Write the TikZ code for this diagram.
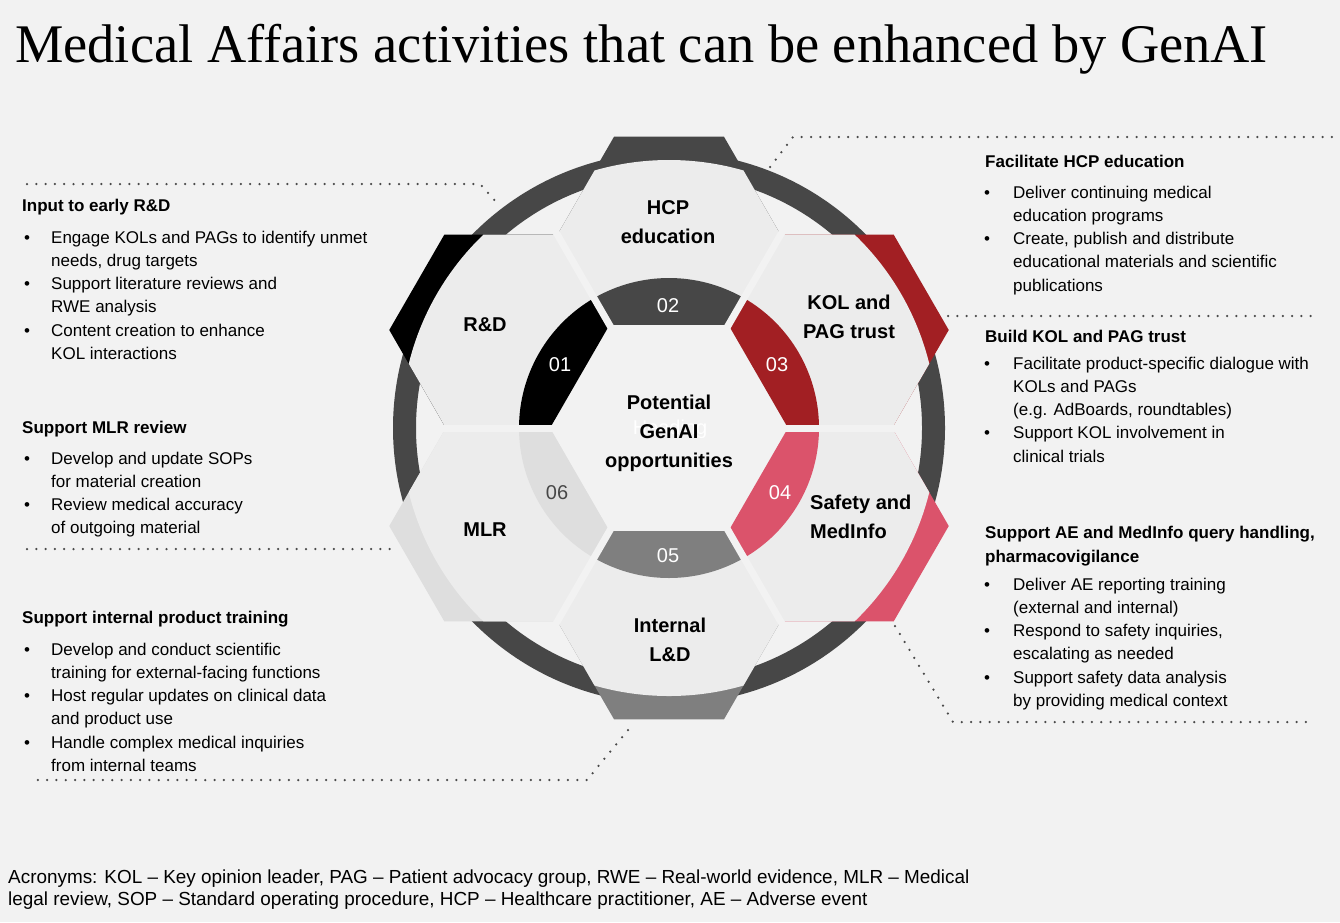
\documentclass[tikz,border=0pt]{standalone}
\usepackage{fontspec}
\setmainfont{Liberation Sans}
\newfontfamily\titlefont{Liberation Serif}
\usetikzlibrary{positioning}
\definecolor{bggray}{HTML}{F2F2F2}
\definecolor{tilegray}{HTML}{ECECEC}
\definecolor{ringgray}{HTML}{474747}
\definecolor{rdblack}{HTML}{000000}
\definecolor{kolred}{HTML}{A21F23}
\definecolor{safepink}{HTML}{DB536B}
\definecolor{lndgray}{HTML}{7F7F7F}
\definecolor{mlrgray}{HTML}{DEDEDE}
\definecolor{dotgray}{HTML}{4A4A4A}

\tikzset{
  leader/.style={draw=dotgray, line width=2.5pt, line cap=round, dash pattern=on 0pt off 9.3pt},
  tilelabel/.style={font=\bfseries\fontsize{20}{29}\selectfont, align=center, inner sep=0pt},
  segnum/.style={font=\fontsize{20}{24}\selectfont, text=white, inner sep=0pt},
  headtext/.style={anchor=base west, font=\bfseries\fontsize{17}{23.3}\selectfont, inner sep=0pt, align=left},
  listtext/.style={anchor=base west, font=\fontsize{17}{23.3}\selectfont, inner sep=0pt},
}
% bullet lists, left and right columns
\newcommand{\leftlist}[1]{\begin{tabular}[t]{@{\hspace{2pt}}p{27pt}@{}l@{}}#1\end{tabular}}
\newcommand{\rightlist}[1]{\begin{tabular}[t]{@{\hspace{-1pt}}p{29pt}@{}l@{}}#1\end{tabular}}

\begin{document}
\begin{tikzpicture}[x=1pt,y=-1pt]
\useasboundingbox (0,0) rectangle (1340,922);
\fill[bggray] (0,0) rectangle (1340,922);

\node[anchor=base west, inner sep=0pt, font=\titlefont\fontsize{54.4}{60}\selectfont] (title) at (15,62)
  {Medical Affairs activities that can be enhanced by GenAI};

% wheel
\begin{scope}[shift={(669,428)}]
  \fill[ringgray, even odd rule] (0,0) circle (276) (0,0) circle (253);
  \foreach \ang/\col in {210/rdblack,-90/ringgray,-30/kolred,30/safepink,90/lndgray,150/mlrgray}{
    \fill[\col] (\ang:196) ++(0:110) -- ++(120:110) -- ++(180:110) -- ++(240:110) -- ++(300:110) -- ++(0:110) -- cycle;
    \begin{scope}
      \clip (0,0) circle (268);
      \fill[tilegray] (\ang:196) ++(0:110) -- ++(120:110) -- ++(180:110) -- ++(240:110) -- ++(300:110) -- ++(0:110) -- cycle;
    \end{scope}
  }
  % centre hexagon
  \fill[bggray] (0:119) -- (60:119) -- (120:119) -- (180:119) -- (240:119) -- (300:119) -- cycle;
  % inner segments
  \foreach \ang/\col in {210/rdblack,-90/ringgray,-30/kolred,30/safepink,90/lndgray,150/mlrgray}{
    \fill[\col] (\ang-30:150) arc[start angle=\ang-30, end angle=\ang+30, radius=150]
      -- (\ang+30:119) -- (\ang-30:119) -- cycle;
  }
  \foreach \g in {0,60,...,300}
    \draw[bggray, line width=7pt] (\g:112) -- (\g:252);
\end{scope}

% segment numbers
\node[segnum] (n01) at (560,365) {01};
\node[segnum] (n02) at (668,306) {02};
\node[segnum] (n03) at (777,365) {03};
\node[segnum] (n04) at (780,493) {04};
\node[segnum] (n05) at (668,556) {05};
\node[segnum, text=ringgray] (n06) at (557,493) {06};

% tile labels
\node[tilelabel] (hcp) at (668,222) {HCP\\education};
\node[tilelabel] (rd) at (485,325) {R\&D};
\node[tilelabel] (kol) at (849,317) {KOL and\\PAG trust};
\node[tilelabel, align=left, anchor=west] (safety) at (810,517) {Safety and\\MedInfo};
\node[tilelabel] (mlr) at (485,530) {MLR};
\node[tilelabel] (lnd) at (670,640) {Internal\\L\&D};
\node[font=\fontsize{20}{24}\selectfont, text=white, inner sep=0pt] (ghost) at (670,429) {Heading};
\node[tilelabel] (centre) at (669,433) {Potential\\GenAI\\opportunities};

% left column
\node[headtext] (rdhead) at (22,211) {Input to early R\&D};
\node[listtext] (rdlist) at (22,243) {\leftlist{
  \textbullet & Engage KOLs and PAGs to identify unmet\\
  & needs, drug targets\\
  \textbullet & Support literature reviews and\\
  & RWE analysis\\
  \textbullet & Content creation to enhance\\
  & KOL interactions}};

\node[headtext] (mlrhead) at (22,433) {Support MLR review};
\node[listtext] (mlrlist) at (22,464) {\leftlist{
  \textbullet & Develop and update SOPs\\
  & for material creation\\
  \textbullet & Review medical accuracy\\
  & of outgoing material}};

\node[headtext] (lndhead) at (22,623) {Support internal product training};
\node[listtext] (lndlist) at (22,655) {\leftlist{
  \textbullet & Develop and conduct scientific\\
  & training for external-facing functions\\
  \textbullet & Host regular updates on clinical data\\
  & and product use\\
  \textbullet & Handle complex medical inquiries\\
  & from internal teams}};

% right column
\node[headtext] (hcphead) at (985,167) {Facilitate HCP education};
\node[listtext] (hcplist) at (985,198) {\rightlist{
  \textbullet & Deliver continuing medical\\
  & education programs\\
  \textbullet & Create, publish and distribute\\
  & educational materials and scientific\\
  & publications}};

\node[headtext] (kolhead) at (985,342) {Build KOL and PAG trust};
\node[listtext] (kollist) at (985,369) {\rightlist{
  \textbullet & Facilitate product-specific dialogue with\\
  & KOLs and PAGs\\
  & (e.g. AdBoards, roundtables)\\
  \textbullet & Support KOL involvement in\\
  & clinical trials}};

\node[headtext] (safehead) at (985,562) {Support AE and MedInfo query handling,\\pharmacovigilance};
\node[listtext] (safelist) at (985,590) {\rightlist{
  \textbullet & Deliver AE reporting training\\
  & (external and internal)\\
  \textbullet & Respond to safety inquiries,\\
  & escalating as needed\\
  \textbullet & Support safety data analysis\\
  & by providing medical context}};

% leaders
\coordinate (rdA) at (27,184);
\coordinate (rdB) at (480,184);
\coordinate (rdC) at (497,203);
\draw[leader] (rdA) -- (rdB) -- (rdC);
\coordinate (hcpA) at (770,167);
\coordinate (hcpB) at (793,137);
\coordinate (hcpC) at (1337,137);
\draw[leader] (hcpA) -- (hcpB) -- (hcpC);
\coordinate (kolA) at (948,316);
\coordinate (kolB) at (1315,316);
\draw[leader] (kolA) -- (kolB);
\coordinate (mlrA) at (27,549);
\coordinate (mlrB) at (393,549);
\draw[leader] (mlrA) -- (mlrB);
\coordinate (safeA) at (895,626);
\coordinate (safeB) at (953,722);
\coordinate (safeC) at (1308,722);
\draw[leader] (safeA) -- (safeB) -- (safeC);
\coordinate (lndA) at (628,730);
\coordinate (lndB) at (587,780);
\coordinate (lndC) at (32,780);
\draw[leader] (lndA) -- (lndB) -- (lndC);

% footnote
\node[anchor=base west, inner sep=0pt, align=left, font=\fontsize{18.9}{22}\selectfont] (acro) at (8,905)
  {Acronyms: KOL -- Key opinion leader, PAG -- Patient advocacy group, RWE -- Real-world evidence, MLR -- Medical\\
   legal review, SOP -- Standard operating procedure, HCP -- Healthcare practitioner, AE -- Adverse event};
\end{tikzpicture}
\end{document}
